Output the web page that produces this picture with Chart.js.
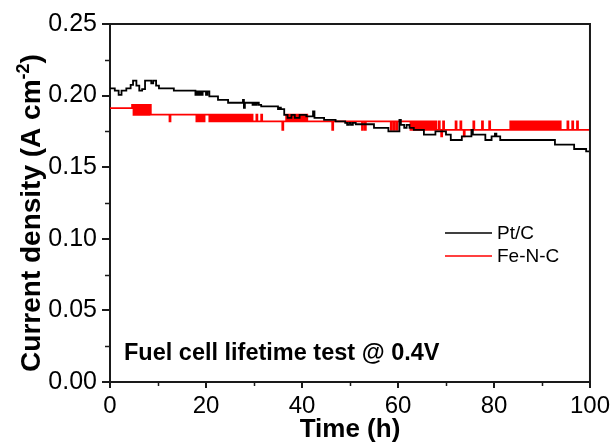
<!DOCTYPE html>
<html>
<head>
<meta charset="utf-8">
<script src="https://cdn.jsdelivr.net/npm/chart.js@4/dist/chart.umd.min.js"></script>
<style>
html,body{margin:0;padding:0;background:#fff;}
#wrap{width:614px;height:442px;position:relative;}
</style>
</head>
<body>
<div id="wrap"><canvas id="c" width="614" height="442"></canvas></div>
<script>
// ---- data ----
const seriesNames = ['Pt/C', 'Fe-N-C'];
const seriesColors = ['#000000', '#ff0000'];

// Pt/C: [time (h), current density (A cm-2)], value held until next time
const ptC = [
[0,0.205],[1.0,0.2035],[1.8,0.2005],[2.4,0.2035],[3.4,0.205],[4.3,0.2075],[4.8,0.2105],[5.5,0.207],
[6.1,0.2035],[6.7,0.2045],[7.3,0.2105],[8.6,0.2085],[9.0,0.2105],[9.6,0.207],[10.2,0.205],[13.3,0.2035],
[17.8,0.2005],[18.1,0.203],[18.4,0.2005],[18.7,0.203],[19.0,0.2005],[19.3,0.203],[20.0,0.2005],[20.3,0.203],
[20.7,0.1995],[22.5,0.197],[24.6,0.195],[27.7,0.197],[27.9,0.1915],[28.1,0.195],[29.7,0.1935],[30.0,0.195],
[30.3,0.1935],[30.6,0.195],[31.0,0.1935],[31.5,0.1925],[35.0,0.1905],[35.3,0.1915],[35.6,0.1905],[36.3,0.1865],
[37.0,0.1845],[37.8,0.1865],[38.5,0.1845],[39.5,0.1865],[40.9,0.1855],[42.3,0.189],[42.6,0.1845],[44.6,0.183],
[47.0,0.182],[49.0,0.181],[49.4,0.1795],[49.8,0.181],[50.2,0.1795],[50.6,0.181],[51.2,0.180],[55.0,0.1775],
[58.0,0.175],[60.3,0.183],[60.6,0.1795],[61.3,0.1775],[61.8,0.1795],[62.4,0.1775],[63.3,0.176],[65.4,0.1727],
[67.8,0.175],[70.0,0.1727],[71.0,0.169],[73.3,0.1715],[75.3,0.176],[75.6,0.1727],[78.2,0.169],[79.5,0.1715],
[80.2,0.1735],[80.5,0.1715],[81.3,0.169],[92.7,0.1657],[96.7,0.1627],[99.2,0.161],[100,0.161]
];

// Fe-N-C: [time (h), current density (A cm-2)]
const feNC = [
[0,0.1912],
[4.6,0.1935],[4.9,0.1865],[5.2,0.1935],[5.5,0.1865],[5.8,0.1935],[6.1,0.1865],[6.4,0.1935],[6.7,0.1865],
[7.0,0.1935],[7.3,0.1865],[7.6,0.1935],[7.9,0.1865],[8.2,0.1935],[8.5,0.1867],
[12.4,0.182],[12.6,0.1867],
[18.0,0.182],[18.2,0.1867],[18.5,0.182],[18.7,0.1867],[19.0,0.182],[19.2,0.1867],[19.5,0.182],[19.7,0.1867],
[20.7,0.182],[21.0,0.1867],[21.3,0.182],[21.6,0.1867],[21.9,0.182],[22.2,0.1867],[22.5,0.182],[22.8,0.1867],
[23.1,0.182],[23.4,0.1867],[23.7,0.182],[24.0,0.1867],[24.3,0.182],[24.6,0.1867],[24.9,0.182],[25.2,0.1867],
[25.5,0.182],[25.8,0.1867],[26.1,0.182],[26.4,0.1867],[26.7,0.182],[27.0,0.1867],[27.3,0.182],[27.6,0.1867],
[27.9,0.182],[28.2,0.1867],[28.5,0.182],[28.8,0.1867],[29.1,0.182],[29.4,0.1867],[29.7,0.182],
[30.5,0.1867],[30.7,0.182],[31.5,0.1867],[31.7,0.182],
[35.9,0.176],[36.1,0.182],
[36.7,0.1867],[37.0,0.182],[37.3,0.1867],[37.6,0.182],[37.9,0.1867],[38.2,0.182],[38.5,0.1867],[38.8,0.182],
[39.1,0.1867],[39.4,0.182],[39.7,0.1867],[40.0,0.182],[40.3,0.1867],[40.6,0.182],[40.9,0.1867],[41.1,0.182],
[46.3,0.176],[46.5,0.182],
[52.5,0.176],[52.7,0.182],[53.1,0.176],[53.3,0.182],
[58.5,0.176],[58.7,0.182],[59.1,0.176],[59.3,0.182],[59.7,0.176],[59.9,0.182],
[62.6,0.176],[62.9,0.182],[63.2,0.176],[63.5,0.182],[63.8,0.176],[64.1,0.182],[64.4,0.176],[64.7,0.182],
[65.0,0.176],[65.3,0.182],[65.6,0.176],[65.9,0.182],[66.2,0.176],[66.5,0.182],[66.8,0.176],[67.1,0.182],
[67.4,0.176],[67.7,0.182],[68.0,0.176],
[68.5,0.182],[68.7,0.176],[69.0,0.1715],[69.2,0.176],[69.4,0.182],[69.6,0.176],
[72.0,0.182],[72.2,0.176],[73.0,0.182],[73.2,0.176],[73.7,0.1715],[73.9,0.176],
[75.7,0.182],[75.9,0.176],[77.5,0.182],[77.7,0.176],[79.0,0.182],[79.2,0.176],
[83.4,0.182],[83.7,0.176],[84.0,0.182],[84.3,0.176],[84.6,0.182],[84.9,0.176],[85.2,0.182],[85.5,0.176],
[85.8,0.182],[86.1,0.176],[86.4,0.182],[86.7,0.176],[87.0,0.182],[87.3,0.176],[87.6,0.182],[87.9,0.176],
[88.2,0.182],[88.5,0.176],[88.8,0.182],[89.1,0.176],[89.4,0.182],[89.7,0.176],[90.0,0.182],[90.3,0.176],
[90.6,0.182],[90.9,0.176],[91.2,0.182],[91.5,0.176],[91.8,0.182],[92.1,0.176],[92.4,0.182],[92.7,0.176],
[93.0,0.182],[93.3,0.176],[93.6,0.182],[93.9,0.176],
[95.3,0.182],[95.5,0.176],[96.3,0.182],[96.5,0.176],[97.3,0.182],[97.5,0.176],
[100,0.176]
];

const xMinorTicks = [10, 30, 50, 70, 90];
const yMinorTicks = [0.025, 0.075, 0.125, 0.175, 0.225];
const xTitle = 'Time (h)';
const yTitleParts = ['Current density (A cm', '-2', ')'];
const noteText = 'Fuel cell lifetime test @ 0.4V';

// ---- chart ----
const FONT = "'Liberation Sans', Arial, sans-serif";
const AXIS = '#1a1a1a';

const toPts = arr => arr.map(p => ({x: p[0], y: p[1]}));

const extras = {
  id: 'extras',
  afterDraw(chart) {
    const ctx = chart.ctx;
    const a = chart.chartArea;
    const xs = chart.scales.x, ys = chart.scales.y;
    ctx.save();
    ctx.strokeStyle = AXIS;
    ctx.lineWidth = 2;
    // top & right frame
    ctx.beginPath();
    ctx.moveTo(a.left, a.top);
    ctx.lineTo(a.right, a.top);
    ctx.lineTo(a.right, a.bottom);
    ctx.stroke();
    // minor ticks
    ctx.lineWidth = 1.5;
    ctx.beginPath();
    yMinorTicks.forEach(v => {
      const py = Math.round(ys.getPixelForValue(v)) + 0.5;
      ctx.moveTo(a.left - 5, py); ctx.lineTo(a.left, py);
    });
    xMinorTicks.forEach(v => {
      const px = Math.round(xs.getPixelForValue(v)) + 0.5;
      ctx.moveTo(px, a.bottom); ctx.lineTo(px, a.bottom + 4);
    });
    ctx.stroke();
    // y axis title with superscript
    const fMain = 'bold 28px ' + FONT, fSup = 'bold 18px ' + FONT;
    ctx.font = fMain; const w0 = ctx.measureText(yTitleParts[0]).width;
    const w2 = ctx.measureText(yTitleParts[2]).width;
    ctx.font = fSup; const w1 = ctx.measureText(yTitleParts[1]).width;
    const total = w0 + w1 + w2;
    ctx.translate(40, 213);
    ctx.rotate(-Math.PI / 2);
    ctx.fillStyle = '#000';
    ctx.textAlign = 'left';
    ctx.textBaseline = 'alphabetic';
    let tx = -total / 2;
    ctx.font = fMain; ctx.fillText(yTitleParts[0], tx, 0); tx += w0;
    ctx.font = fSup; ctx.fillText(yTitleParts[1], tx, -11); tx += w1;
    ctx.font = fMain; ctx.fillText(yTitleParts[2], tx, 0);
    ctx.setTransform(1, 0, 0, 1, 0, 0);
    // legend
    const lx0 = 445, lx1 = 492, ly = [233, 256];
    ctx.font = '19px ' + FONT;
    ctx.textBaseline = 'middle';
    ctx.textAlign = 'left';
    chart.data.datasets.forEach((ds, i) => {
      ctx.strokeStyle = ds.borderColor;
      ctx.lineWidth = 1.5;
      ctx.beginPath();
      ctx.moveTo(lx0, ly[i]); ctx.lineTo(lx1, ly[i]);
      ctx.stroke();
      ctx.fillStyle = '#000';
      ctx.fillText(ds.label, 497, ly[i] + 1);
    });
    // annotation
    ctx.font = 'bold 23.5px ' + FONT;
    ctx.textBaseline = 'alphabetic';
    ctx.fillStyle = '#000';
    ctx.fillText(noteText, 124, 360);
    ctx.restore();
  }
};

new Chart(document.getElementById('c'), {
  type: 'line',
  data: {
    datasets: [
      {label: seriesNames[0], data: toPts(ptC), borderColor: seriesColors[0], borderWidth: 1.8,
       stepped: true, pointRadius: 0, fill: false},
      {label: seriesNames[1], data: toPts(feNC), borderColor: seriesColors[1], borderWidth: 1.8,
       stepped: true, pointRadius: 0, fill: false}
    ]
  },
  options: {
    responsive: false,
    animation: false,
    devicePixelRatio: 1,
    parsing: false,
    layout: {padding: {top: 24, right: 22, left: 0, bottom: 0}},
    plugins: {legend: {display: false}, tooltip: {enabled: false}},
    scales: {
      x: {
        type: 'linear', min: 0, max: 100,
        afterFit: s => { s.height = 60; },
        ticks: {stepSize: 20, color: '#000', padding: 4, maxRotation: 0,
                font: {family: FONT, size: 24}},
        grid: {drawOnChartArea: false, drawTicks: true, tickLength: 6, color: AXIS, lineWidth: 2, tickWidth: 2},
        border: {display: true, color: AXIS, width: 2},
        title: {display: true, text: xTitle, color: '#000', padding: 0,
                font: {family: FONT, size: 26, weight: 'bold', lineHeight: 0.9}}
      },
      y: {
        type: 'linear', min: 0, max: 0.25,
        afterFit: s => { s.width = 110; },
        ticks: {stepSize: 0.05, color: '#000', padding: 5,
                font: {family: FONT, size: 25},
                callback: v => v.toFixed(2)},
        grid: {drawOnChartArea: false, drawTicks: true, tickLength: 8, color: AXIS, lineWidth: 2, tickWidth: 2},
        border: {display: true, color: AXIS, width: 2},
        title: {display: false}
      }
    }
  },
  plugins: [extras]
});
</script>
</body>
</html>
